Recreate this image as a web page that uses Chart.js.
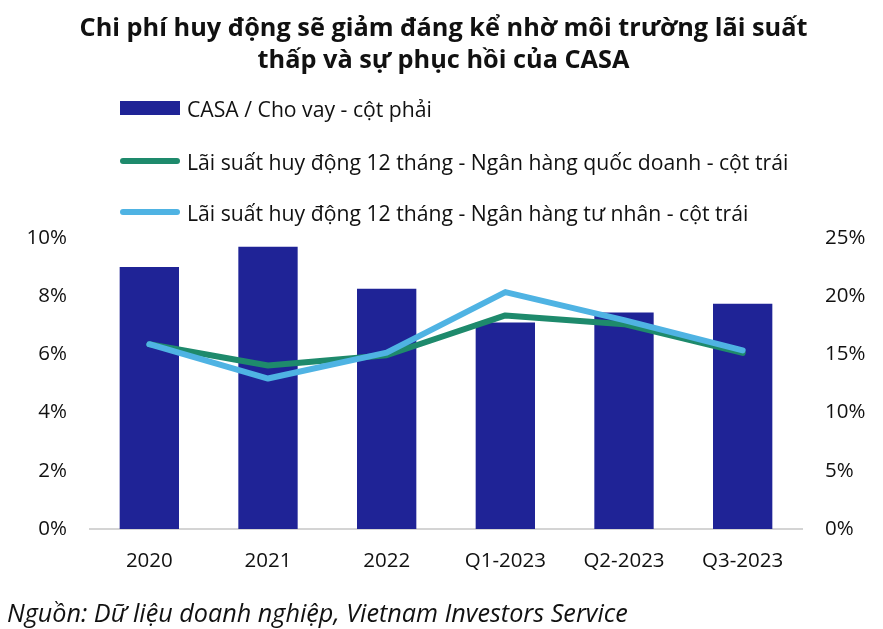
<!DOCTYPE html>
<html>
<head>
<meta charset="utf-8">
<script src="https://cdn.jsdelivr.net/npm/chart.js@4/dist/chart.umd.min.js"></script>
<style>
  html, body { margin: 0; padding: 0; background: #fff; }
  #wrap { position: relative; width: 883px; height: 629px; overflow: hidden; font-family: "Open Sans", "Noto Sans", sans-serif; color: #111; }
  #chart { position: absolute; left: 0; top: 0; }
  #title { position: absolute; left: 2px; width: 883px; top: 10px; text-align: center; font-weight: bold; font-size: 25.3px; line-height: 32px; color: #111; white-space: nowrap; }
  .leg { position: absolute; left: 120px; height: 26px; display: flex; align-items: center; font-size: 21.2px; white-space: nowrap; }
  .leg .sw { display: inline-block; width: 60px; margin-right: 7px; }
  #source { position: absolute; left: 7px; top: 596px; font-style: italic; font-size: 25.2px; line-height: 32px; white-space: nowrap; }
</style>
</head>
<body>
<div id="wrap">
  <canvas id="chart" width="883" height="629"></canvas>
  <div id="title"></div>
  <div id="legend"></div>
  <div id="source"></div>
</div>
<script>
const titleLines = ["Chi phí huy động sẽ giảm đáng kể nhờ môi trường lãi suất", "thấp và sự phục hồi của CASA"];
const sourceText = "Nguồn: Dữ liệu doanh nghiệp, Vietnam Investors Service";
const categories = ["2020", "2021", "2022", "Q1-2023", "Q2-2023", "Q3-2023"];
const seriesNames = [
  "CASA / Cho vay - cột phải",
  "Lãi suất huy động 12 tháng - Ngân hàng quốc doanh - cột trái",
  "Lãi suất huy động 12 tháng - Ngân hàng tư nhân - cột trái"
];
const casaToLoans = [22.5, 24.25, 20.65, 17.75, 18.6, 19.35];      // right axis, %
const stateBankRate = [6.35, 5.62, 5.97, 7.34, 7.04, 6.05];       // left axis, %
const privateBankRate = [6.35, 5.17, 6.06, 8.14, 7.18, 6.14];     // left axis, %
const leftTicks = [0, 2, 4, 6, 8, 10];
const rightTicks = [0, 5, 10, 15, 20, 25];

const colors = ["#1f2396", "#1e8a6c", "#4fb3e3"];

document.getElementById('title').innerHTML = titleLines.join('<br>');
document.getElementById('source').textContent = sourceText;

const legendTops = [95, 148, 199];
const legendEl = document.getElementById('legend');
seriesNames.forEach((name, i) => {
  const row = document.createElement('div');
  row.className = 'leg';
  row.style.top = legendTops[i] + 'px';
  const sw = document.createElement('span');
  sw.className = 'sw';
  if (i === 0) { sw.style.height = '14px'; sw.style.background = colors[0]; }
  else { sw.style.height = '6px'; sw.style.borderRadius = '3px'; sw.style.background = colors[i]; }
  row.appendChild(sw);
  const t = document.createElement('span');
  t.textContent = name;
  row.appendChild(t);
  legendEl.appendChild(row);
});

const tickFont = { family: "'Open Sans', 'Noto Sans', sans-serif", size: 20.5 };

new Chart(document.getElementById('chart'), {
  data: {
    labels: categories,
    datasets: [
      { type: 'line', label: seriesNames[2], data: privateBankRate, yAxisID: 'yL',
        borderColor: colors[2], backgroundColor: colors[2], borderWidth: 6,
        pointRadius: 0, tension: 0, borderCapStyle: 'round', borderJoinStyle: 'round', order: 1 },
      { type: 'line', label: seriesNames[1], data: stateBankRate, yAxisID: 'yL',
        borderColor: colors[1], backgroundColor: colors[1], borderWidth: 6,
        pointRadius: 0, tension: 0, borderCapStyle: 'round', borderJoinStyle: 'round', order: 2 },
      { type: 'bar', label: seriesNames[0], data: casaToLoans, yAxisID: 'yR',
        backgroundColor: colors[0], barPercentage: 0.5, categoryPercentage: 1.0, order: 3 }
    ]
  },
  options: {
    responsive: false,
    animation: false,
    events: [],
    layout: { padding: { top: 238, left: 0, right: 0, bottom: 0 } },
    plugins: { legend: { display: false }, tooltip: { enabled: false }, title: { display: false } },
    scales: {
      x: {
        grid: { display: false, drawTicks: false },
        border: { display: true, color: '#d4d4d4', width: 2 },
        ticks: { color: '#111', font: tickFont, padding: 20, maxRotation: 0 },
        afterFit: s => { s.height = 100; }
      },
      yL: {
        position: 'left', min: 0, max: 10,
        afterBuildTicks: s => { s.ticks = leftTicks.map(v => ({ value: v })); },
        grid: { display: false, drawTicks: false },
        border: { display: false },
        ticks: { color: '#111', font: tickFont, padding: 23, callback: v => v + '%' },
        afterFit: s => { s.width = 90; }
      },
      yR: {
        position: 'right', min: 0, max: 25,
        afterBuildTicks: s => { s.ticks = rightTicks.map(v => ({ value: v })); },
        grid: { display: false, drawTicks: false },
        border: { display: false },
        ticks: { color: '#111', font: tickFont, padding: 23, callback: v => v + '%' },
        afterFit: s => { s.width = 81; }
      }
    }
  }
});
</script>
</body>
</html>
